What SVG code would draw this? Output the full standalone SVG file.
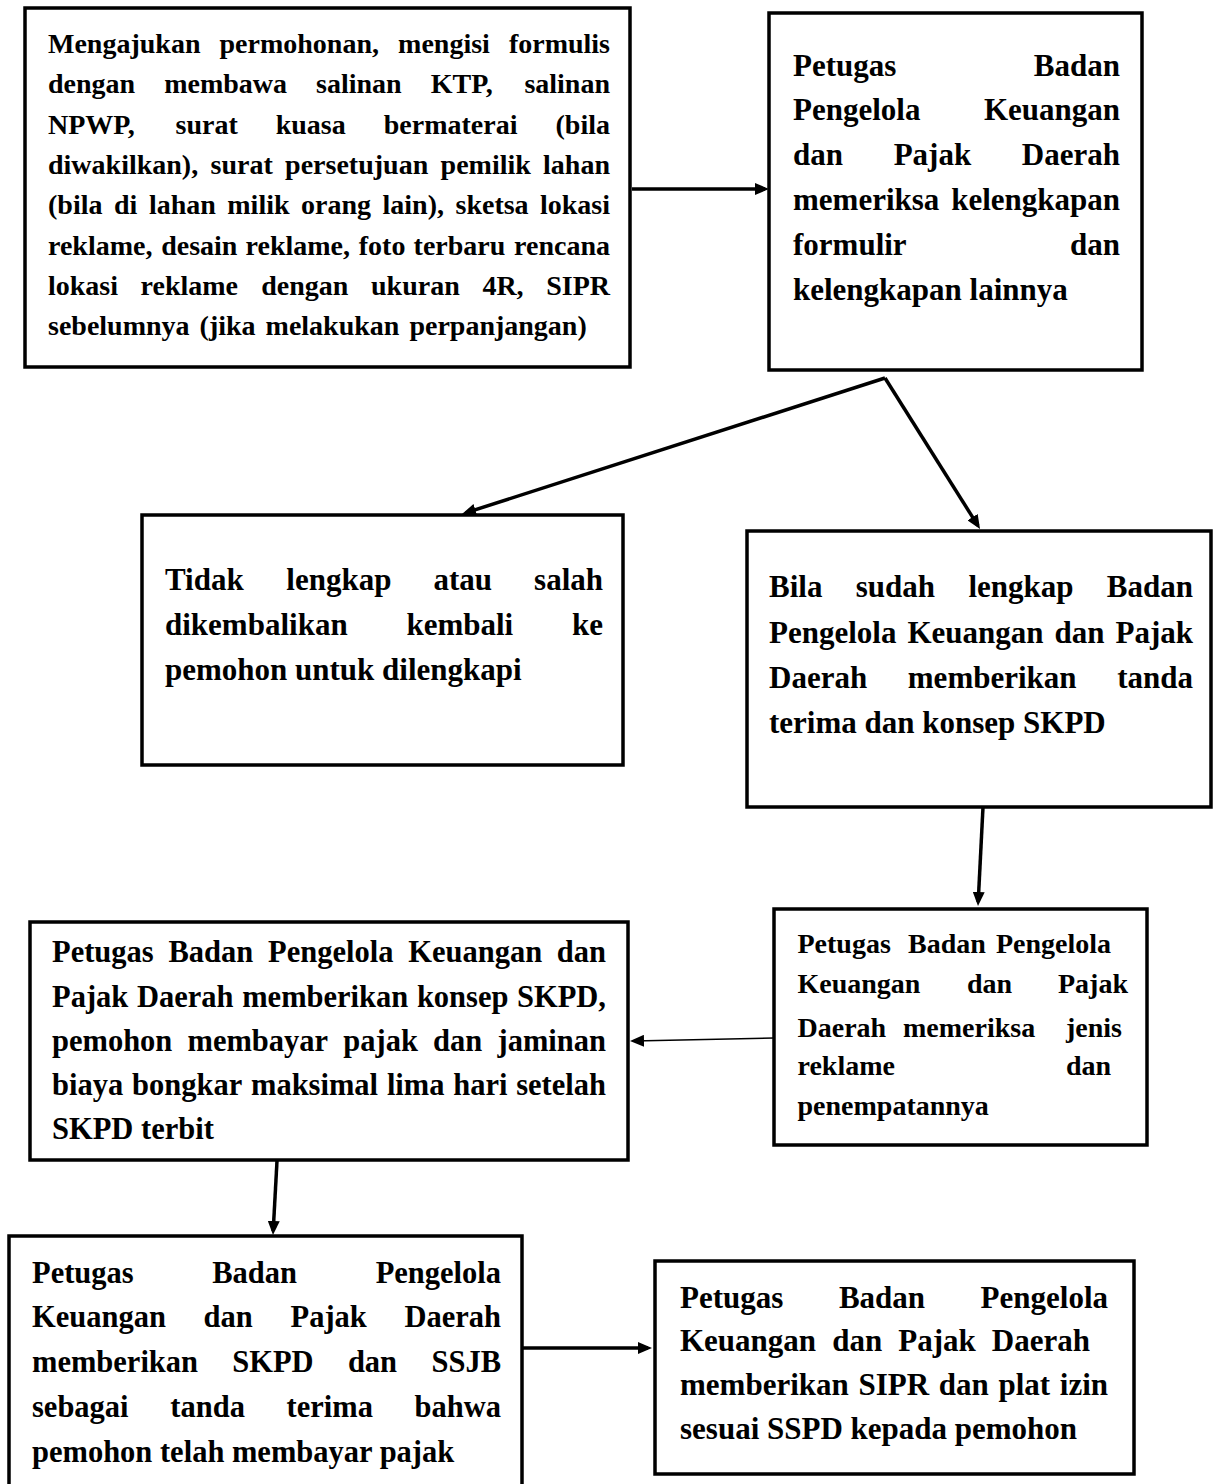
<svg xmlns="http://www.w3.org/2000/svg" width="1213" height="1484" viewBox="0 0 1213 1484">
<style>
.box{fill:#fff;stroke:#000;stroke-width:3.5}
.c{stroke:#000;stroke-width:3.5;fill:none}
.thin{stroke:#000;stroke-width:1.6;fill:none}
text{font-family:"Liberation Serif","Times New Roman",serif;font-weight:bold;fill:#000}
.s28{font-size:28px}
.s30{font-size:30.5px}
.s31{font-size:31px}
.e{text-anchor:end}
</style>
<defs>
<marker id="ah" viewBox="0 0 14 12" refX="10" refY="6" markerWidth="14" markerHeight="12" markerUnits="userSpaceOnUse" orient="auto">
<path d="M0,0 L14,6 L0,12 z" fill="#000"/>
</marker>
</defs>
<rect width="1213" height="1484" fill="#fff"/>

<g id="connectors">
<line class="c" x1="632" y1="189" x2="765" y2="189" marker-end="url(#ah)"/>
<line class="c" x1="885" y1="378" x2="465.8" y2="512.8" marker-end="url(#ah)"/>
<line class="c" x1="885" y1="378" x2="977.9" y2="525.6" marker-end="url(#ah)"/>
<line class="c" x1="983" y1="807" x2="978.2" y2="902" marker-end="url(#ah)"/>
<line class="thin" x1="774" y1="1038" x2="634" y2="1041" marker-end="url(#ah)"/>
<line class="c" x1="277" y1="1161" x2="273.2" y2="1231" marker-end="url(#ah)"/>
<line class="c" x1="522" y1="1348" x2="648" y2="1348" marker-end="url(#ah)"/>
</g>

<g id="node1">
<rect class="box" x="25" y="8" width="605" height="359"/>
<g class="s28">
<text x="48" y="53">Mengajukan</text><text x="219.5" y="53">permohonan,</text><text x="398.1" y="53">mengisi</text><text class="e" x="610" y="53">formulis</text>
<text x="48" y="93">dengan</text><text x="164.2" y="93">membawa</text><text x="316.1" y="93">salinan</text><text x="430.8" y="93">KTP,</text><text class="e" x="610" y="93">salinan</text>
<text x="48" y="134">NPWP,</text><text x="175.5" y="134">surat</text><text x="275.7" y="134">kuasa</text><text x="383.8" y="134">bermaterai</text><text class="e" x="610" y="134">(bila</text>
<text x="48" y="174">diwakilkan),</text><text x="210.6" y="174">surat</text><text x="285.1" y="174">persetujuan</text><text x="440.6" y="174">pemilik</text><text class="e" x="610" y="174">lahan</text>
<text x="48" y="214">(bila</text><text x="114" y="214">di</text><text x="148.9" y="214">lahan</text><text x="227.3" y="214">milik</text><text x="301" y="214">orang</text><text x="382.5" y="214">lain),</text><text x="455.5" y="214">sketsa</text><text class="e" x="610" y="214">lokasi</text>
<text x="48" y="255">reklame,</text><text x="161.2" y="255">desain</text><text x="245.6" y="255">reklame,</text><text x="358.8" y="255">foto</text><text x="413.6" y="255">terbaru</text><text class="e" x="610" y="255">rencana</text>
<text x="48" y="295">lokasi</text><text x="140.6" y="295">reklame</text><text x="261.3" y="295">dengan</text><text x="371" y="295">ukuran</text><text x="482.4" y="295">4R,</text><text class="e" x="610" y="295">SIPR</text>
<text x="48" y="335" word-spacing="3">sebelumnya (jika melakukan perpanjangan)</text>
</g>
</g>

<g id="node2">
<rect class="box" x="769" y="13" width="373" height="357"/>
<g class="s31">
<text x="793" y="76">Petugas</text><text class="e" x="1120" y="76">Badan</text>
<text x="793" y="120">Pengelola</text><text class="e" x="1120" y="120">Keuangan</text>
<text x="793" y="165">dan</text><text x="893.7" y="165">Pajak</text><text class="e" x="1120" y="165">Daerah</text>
<text x="793" y="210">memeriksa</text><text class="e" x="1120" y="210">kelengkapan</text>
<text x="793" y="255">formulir</text><text class="e" x="1120" y="255">dan</text>
<text x="793" y="300">kelengkapan lainnya</text>
</g>
</g>

<g id="node3">
<rect class="box" x="142" y="515" width="481" height="250"/>
<g class="s31">
<text x="165" y="590">Tidak</text><text x="286.3" y="590">lengkap</text><text x="433.4" y="590">atau</text><text class="e" x="603" y="590">salah</text>
<text x="165" y="635">dikembalikan</text><text x="406.4" y="635">kembali</text><text class="e" x="603" y="635">ke</text>
<text x="165" y="680">pemohon untuk dilengkapi</text>
</g>
</g>

<g id="node4">
<rect class="box" x="747" y="531" width="464" height="276"/>
<g class="s31">
<text x="769" y="597">Bila</text><text x="855.8" y="597">sudah</text><text x="968.5" y="597">lengkap</text><text class="e" x="1193" y="597">Badan</text>
<text x="769" y="643">Pengelola</text><text x="907.4" y="643">Keuangan</text><text x="1054.5" y="643">dan</text><text class="e" x="1193" y="643">Pajak</text>
<text x="769" y="688">Daerah</text><text x="907.8" y="688">memberikan</text><text class="e" x="1193" y="688">tanda</text>
<text x="769" y="733">terima dan konsep SKPD</text>
</g>
</g>

<g id="node5">
<rect class="box" x="774" y="909" width="373" height="236"/>
<g class="s28">
<text x="797.5" y="953">Petugas</text><text x="908" y="953">Badan</text><text x="996" y="953">Pengelola</text>
<text x="797.5" y="993">Keuangan</text><text x="967" y="993">dan</text><text x="1058" y="993">Pajak</text>
<text x="797.5" y="1037">Daerah</text><text x="903" y="1037">memeriksa</text><text x="1066" y="1037">jenis</text>
<text x="797.5" y="1075">reklame</text><text x="1066" y="1075">dan</text>
<text x="797.5" y="1115">penempatannya</text>
</g>
</g>

<g id="node6">
<rect class="box" x="30" y="922" width="598" height="238"/>
<g class="s30">
<text x="52" y="962">Petugas</text><text x="168.5" y="962">Badan</text><text x="268.1" y="962">Pengelola</text><text x="408.3" y="962">Keuangan</text><text class="e" x="606" y="962">dan</text>
<text x="52" y="1007">Pajak</text><text x="137" y="1007">Daerah</text><text x="242.2" y="1007">memberikan</text><text x="416.9" y="1007">konsep</text><text class="e" x="606" y="1007">SKPD,</text>
<text x="52" y="1051">pemohon</text><text x="187.5" y="1051">membayar</text><text x="343.3" y="1051">pajak</text><text x="433.1" y="1051">dan</text><text class="e" x="606" y="1051">jaminan</text>
<text x="52" y="1095">biaya</text><text x="132" y="1095">bongkar</text><text x="251" y="1095">maksimal</text><text x="386.9" y="1095">lima</text><text x="453.3" y="1095">hari</text><text class="e" x="606" y="1095">setelah</text>
<text x="52" y="1139">SKPD terbit</text>
</g>
</g>

<g id="node7">
<rect class="box" x="9" y="1236" width="513" height="260"/>
<g class="s30">
<text x="32" y="1283">Petugas</text><text x="212.2" y="1283">Badan</text><text class="e" x="501" y="1283">Pengelola</text>
<text x="32" y="1327">Keuangan</text><text x="203.6" y="1327">dan</text><text x="290.5" y="1327">Pajak</text><text class="e" x="501" y="1327">Daerah</text>
<text x="32" y="1372">memberikan</text><text x="232.3" y="1372">SKPD</text><text x="347.9" y="1372">dan</text><text class="e" x="501" y="1372">SSJB</text>
<text x="32" y="1417">sebagai</text><text x="170.3" y="1417">tanda</text><text x="286.6" y="1417">terima</text><text class="e" x="501" y="1417">bahwa</text>
<text x="32" y="1462">pemohon telah membayar pajak</text>
</g>
</g>

<g id="node8">
<rect class="box" x="655" y="1261" width="479" height="213"/>
<g class="s31">
<text x="680" y="1308">Petugas</text><text x="838.9" y="1308">Badan</text><text class="e" x="1108" y="1308">Pengelola</text>
<text x="680" y="1351">Keuangan</text><text x="832.2" y="1351">dan</text><text x="898.3" y="1351">Pajak</text><text class="e" x="1090" y="1351">Daerah</text>
<text x="680" y="1395">memberikan</text><text x="858.5" y="1395">SIPR</text><text x="938.8" y="1395">dan</text><text x="998.5" y="1395">plat</text><text class="e" x="1108" y="1395">izin</text>
<text x="680" y="1439">sesuai SSPD kepada pemohon</text>
</g>
</g>
</svg>
